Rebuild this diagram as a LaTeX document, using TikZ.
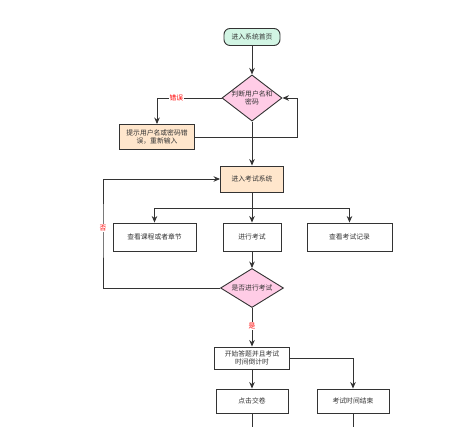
\documentclass[tikz,border=0pt]{standalone}
\usepackage{fontspec}
\setmainfont{Noto Sans CJK SC}
\usetikzlibrary{shapes.geometric,arrows.meta}
\definecolor{startgreen}{HTML}{D2F5E4}
\definecolor{decpink}{HTML}{FFCCE6}
\definecolor{boxorange}{HTML}{FFE6CC}
\definecolor{linegray}{HTML}{333333}
\begin{document}
\begin{tikzpicture}[x=1pt, y=-1pt,
	every node/.style={font=\fontsize{6.8}{8.5}\selectfont, text=linegray, align=center},
	box/.style={draw=linegray, line width=0.9pt, rectangle, inner sep=1pt},
	start/.style={box, rounded corners=6pt, fill=startgreen, minimum width=56pt, minimum height=17pt},
	decision/.style={draw=linegray, line width=0.9pt, diamond, aspect=1.3, inner sep=0pt, fill=decpink},
	arr/.style={draw=linegray, line width=0.9pt, -{Stealth[length=6.5pt, width=5.5pt]}},
	ln/.style={draw=linegray, line width=0.9pt},
	lbl/.style={fill=white, text=red, inner sep=1pt}]
	\useasboundingbox (0,0) rectangle (474,427);
	\node[start] (home) at (252,37) {进入系统首页};
	\node[decision, minimum width=58pt, minimum height=46pt] (judge) at (252,98) {判断用户名和\\密码};
	\node[box, fill=boxorange, minimum width=75pt, minimum height=25pt] (err) at (157,137) {提示用户名或密码错\\误，重新输入};
	\node[box, fill=boxorange, minimum width=63pt, minimum height=26pt] (sys) at (252,179) {进入考试系统};
	\node[box, minimum width=83pt, minimum height=28pt] (course) at (154.5,237) {查看课程或者章节};
	\node[box, minimum width=58pt, minimum height=28pt] (exam) at (252,237) {进行考试};
	\node[box, minimum width=85pt, minimum height=28pt] (record) at (349.5,237) {查看考试记录};
	\node[decision, minimum width=63pt, minimum height=39pt] (ask) at (252,288) {是否进行考试};
	\node[box, minimum width=75pt, minimum height=22pt] (begin) at (252,358) {开始答题并且考试\\时间倒计时};
	\node[box, minimum width=72pt, minimum height=24pt] (submit) at (252,401) {点击交卷};
	\node[box, minimum width=72pt, minimum height=24pt] (timeout) at (353,401) {考试时间结束};
	\coordinate (loopr) at (297,98);
	\coordinate (split) at (252,208);
	\coordinate (loopl) at (103,228);
	\coordinate (endl) at (252,427);
	\coordinate (endr) at (353,427);
	\draw[arr] (home) -- (judge);
	\draw[arr] (judge.west) -| node[lbl, pos=0.35]{错误} (err.north);
	\draw[arr] (err.east) -| (loopr) -- (judge.east);
	\draw[arr] (judge) -- (sys);
	\draw[ln] (sys) -- (split);
	\draw[arr] (split) -| (course);
	\draw[arr] (split) -| (record);
	\draw[arr] (split) -- (exam);
	\draw[arr] (exam) -- (ask);
	\draw[arr] (ask.west) -| (loopl) node[lbl]{否} |- (sys.west);
	\draw[arr] (ask.south) -- node[lbl, pos=0.48]{是} (begin.north);
	\draw[arr] (begin) -- (submit);
	\draw[arr] (begin.east) -| (timeout.north);
	\draw[ln] (submit) -- (endl);
	\draw[ln] (timeout) -- (endr);
\end{tikzpicture}
\end{document}
